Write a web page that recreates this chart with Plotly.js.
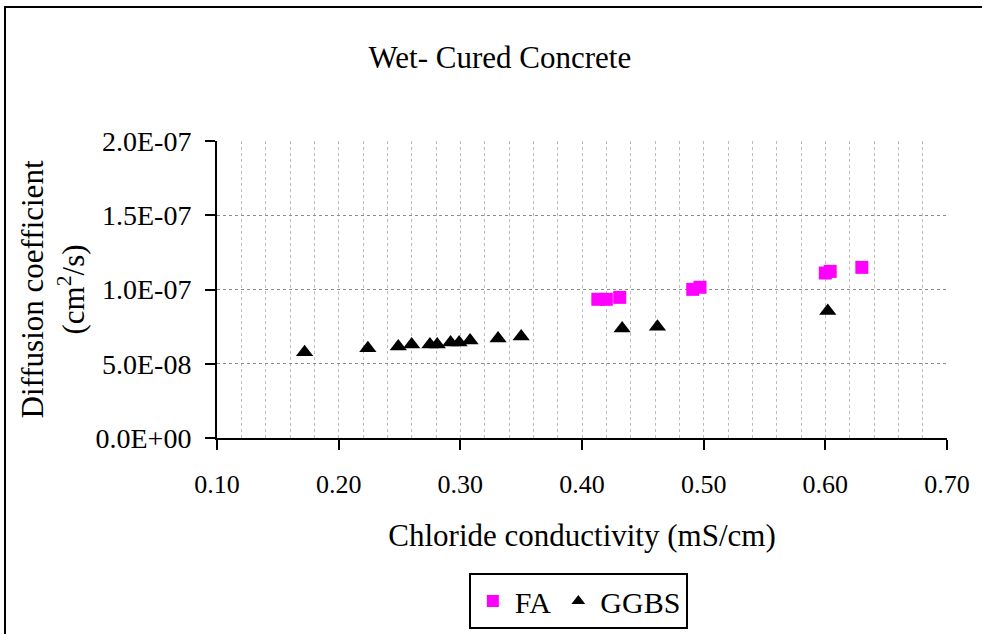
<!DOCTYPE html>
<html>
<head>
<meta charset="utf-8">
<script src="https://cdn.plot.ly/plotly-3.0.1.min.js"></script>
<style>
  html, body { margin: 0; padding: 0; background: #ffffff; }
  #wrap { position: relative; width: 982px; height: 634px; overflow: hidden; }
  #chart { position: absolute; left: 0; top: 0; width: 982px; height: 634px; }
  #frame { position: absolute; left: 4px; top: 5.5px; width: 1200px; height: 800px;
           border-left: 2.5px solid #000; border-top: 2.5px solid #000; pointer-events: none; }
</style>
</head>
<body>
<div id="wrap">
  <div id="chart"></div>
  <div id="frame"></div>
</div>
<script>
// ---- Data ----
const seriesNames = ['FA', 'GGBS'];

const faX = [0.413, 0.420, 0.431, 0.491, 0.497, 0.600, 0.604, 0.630];
const faY = [9.34e-8, 9.34e-8, 9.47e-8, 1.001e-7, 1.015e-7, 1.111e-7, 1.122e-7, 1.149e-7];

const ggbsX = [0.172, 0.224, 0.249, 0.260, 0.275, 0.281, 0.292, 0.299, 0.308, 0.331, 0.350, 0.433, 0.462, 0.602];
const ggbsY = [5.78e-8, 6.05e-8, 6.16e-8, 6.29e-8, 6.29e-8, 6.29e-8, 6.43e-8, 6.43e-8, 6.56e-8, 6.70e-8, 6.83e-8, 7.37e-8, 7.50e-8, 8.56e-8];

const xTickVals = [0.10, 0.20, 0.30, 0.40, 0.50, 0.60, 0.70];
const xTickLabels = ['0.10', '0.20', '0.30', '0.40', '0.50', '0.60', '0.70'];
const yTickVals = [0, 5e-8, 1e-7, 1.5e-7, 2e-7];
const yTickLabels = ['0.0E+00', '5.0E-08', '1.0E-07', '1.5E-07', '2.0E-07'];

const chartTitle = 'Wet- Cured Concrete';
const xTitle = 'Chloride conductivity (mS/cm)';
const yTitle = 'Diffusion coefficient<br>(cm<sup>2</sup>/s)';

// ---- Chart ----
const FONT = 'Liberation Serif, DejaVu Serif, serif';

const traces = [
  {
    type: 'scatter', mode: 'markers', name: seriesNames[0],
    x: faX, y: faY,
    marker: { symbol: 'square', size: 13, color: '#ff00ff', line: { width: 0 } }
  },
  {
    type: 'scatter', mode: 'markers', name: seriesNames[1],
    x: ggbsX, y: ggbsY,
    marker: { symbol: 'triangle-up', size: 15, color: '#000000', line: { width: 0 } }
  }
];

const layout = {
  width: 982, height: 634,
  paper_bgcolor: '#ffffff', plot_bgcolor: '#ffffff',
  margin: { l: 217, r: 35, t: 141, b: 196 },
  font: { family: FONT, color: '#000000', size: 26 },
  title: {
    text: chartTitle,
    font: { family: FONT, size: 31, color: '#000' },
    xref: 'container', yref: 'container',
    x: 0.509, xanchor: 'center',
    y: 0.91, yanchor: 'middle'
  },
  xaxis: {
    range: [0.1, 0.7],
    tickvals: xTickVals, ticktext: xTickLabels,
    ticks: 'outside', ticklen: 10, tickwidth: 2, tickcolor: '#000',
    showline: true, linecolor: '#000', linewidth: 2,
    showgrid: true, gridcolor: '#bdbdbd', gridwidth: 1, griddash: 'dot',
    minor: { dtick: 0.02, tick0: 0.1, showgrid: true, gridcolor: '#bdbdbd', gridwidth: 1, griddash: 'dot', ticks: '' },
    zeroline: false,
    tickfont: { family: FONT, size: 26, color: '#000' },
    ticklabelstandoff: 12,
    title: { text: xTitle, font: { family: FONT, size: 31, color: '#000' }, standoff: 26 },
    automargin: false
  },
  yaxis: {
    range: [0, 2e-7],
    tickvals: yTickVals, ticktext: yTickLabels,
    ticks: 'outside', ticklen: 10, tickwidth: 2, tickcolor: '#000',
    showline: true, linecolor: '#000', linewidth: 2,
    showgrid: true, gridcolor: '#8c8c8c', gridwidth: 1, griddash: 'dot',
    zeroline: false,
    tickfont: { family: FONT, size: 28, color: '#000' },
    ticklabelstandoff: 8,
    title: { text: yTitle, font: { family: FONT, size: 31, color: '#000' }, standoff: 2 },
    automargin: false
  },
  showlegend: true,
  legend: {
    orientation: 'h',
    xref: 'paper', x: 0.495, xanchor: 'center',
    yref: 'container', y: 0.008, yanchor: 'bottom',
    bordercolor: '#000', borderwidth: 2,
    bgcolor: '#ffffff',
    font: { family: FONT, size: 30, color: '#000' },
    itemwidth: 34,
    itemsizing: 'constant'
  }
};

Plotly.newPlot('chart', traces, layout, { displayModeBar: false, staticPlot: true });
</script>
</body>
</html>
